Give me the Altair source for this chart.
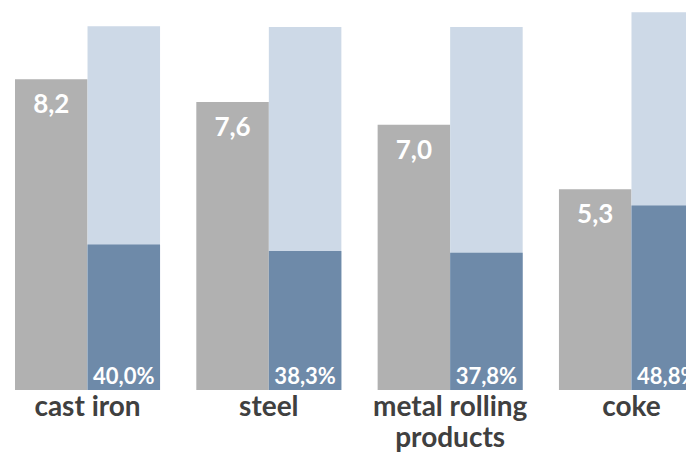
import altair as alt
import pandas as pd

categories = ["cast iron", "steel", "metal rolling products", "coke"]
values = [8.2, 7.6, 7.0, 5.3]
shares = [40.0, 38.3, 37.8, 48.8]
totals = [9.60, 9.58, 9.58, 9.97]

GRAY = "#B1B1B1"
LIGHT = "#CDD9E7"
DARK = "#6E8AA9"
FONT = "Lato"


def fmt(v, suffix=""):
    return f"{v:.1f}".replace(".", ",") + suffix


gray_df = pd.DataFrame({
    "cat": categories,
    "series": "value",
    "y": values,
    "label": [fmt(v) for v in values],
})
blue_df = pd.DataFrame({
    "cat": categories,
    "series": "share",
    "total": totals,
    "share": shares,
    "label": [fmt(s, "%") for s in shares],
})

x = alt.X(
    "cat:N",
    sort=categories,
    scale=alt.Scale(range=[7, 696], paddingInner=0.2, paddingOuter=0, align=0),
    axis=alt.Axis(
        title=None,
        domain=False,
        ticks=False,
        tickSize=0,
        labelAngle=0,
        labelFont=FONT,
        labelFontSize=28,
        labelFontWeight="bold",
        labelColor="#404040",
        labelBaseline="alphabetic",
        labelPadding=25,
        labelLineHeight=31,
        labelOverlap=False,
        labelFlush=False,
        labelBound=False,
        labelLimit=0,
        labelExpr="datum.label == 'metal rolling products' ? ['metal rolling', 'products'] : datum.label",
    ),
)
xoff = alt.XOffset(
    "series:N",
    sort=["value", "share"],
    scale=alt.Scale(domain=["value", "share"], paddingInner=0, paddingOuter=0),
)
yscale = alt.Scale(domain=[0, 382 / 37.9], nice=False, zero=True)

gray = alt.Chart(gray_df).mark_bar(color=GRAY, clip=True).encode(
    x=x, xOffset=xoff,
    y=alt.Y("y:Q", scale=yscale, axis=None),
)
gray_text = alt.Chart(gray_df).mark_text(
    color="white", font=FONT, fontSize=26, fontWeight="bold",
    baseline="alphabetic", dy=34, clip=True,
).encode(x=x, xOffset=xoff, y=alt.Y("y:Q", scale=yscale, axis=None), text="label:N")

light = alt.Chart(blue_df).mark_bar(color=LIGHT, clip=True).encode(
    x=x, xOffset=xoff,
    y=alt.Y("total:Q", scale=yscale, axis=None),
)
dark = alt.Chart(blue_df).transform_calculate(
    part="datum.total * datum.share / 100"
).mark_bar(color=DARK, clip=True).encode(
    x=x, xOffset=xoff,
    y=alt.Y("part:Q", scale=yscale, axis=None),
)
pct_text = alt.Chart(blue_df).transform_calculate(
    zero="0"
).mark_text(
    color="white", font=FONT, fontSize=22, fontWeight="bold",
    baseline="alphabetic", dy=-6, clip=True,
).encode(x=x, xOffset=xoff, y=alt.Y("zero:Q", scale=yscale, axis=None), text="label:N")

chart = alt.layer(gray, light, dark, gray_text, pct_text).properties(
    width=678,
    height=382,
    padding={"left": 0, "top": 0, "right": 0, "bottom": 62},
    autosize=alt.AutoSizeParams(type="none"),
).configure_view(stroke=None)

chart.save("out.html", embed_options={"renderer": "svg", "actions": False})
